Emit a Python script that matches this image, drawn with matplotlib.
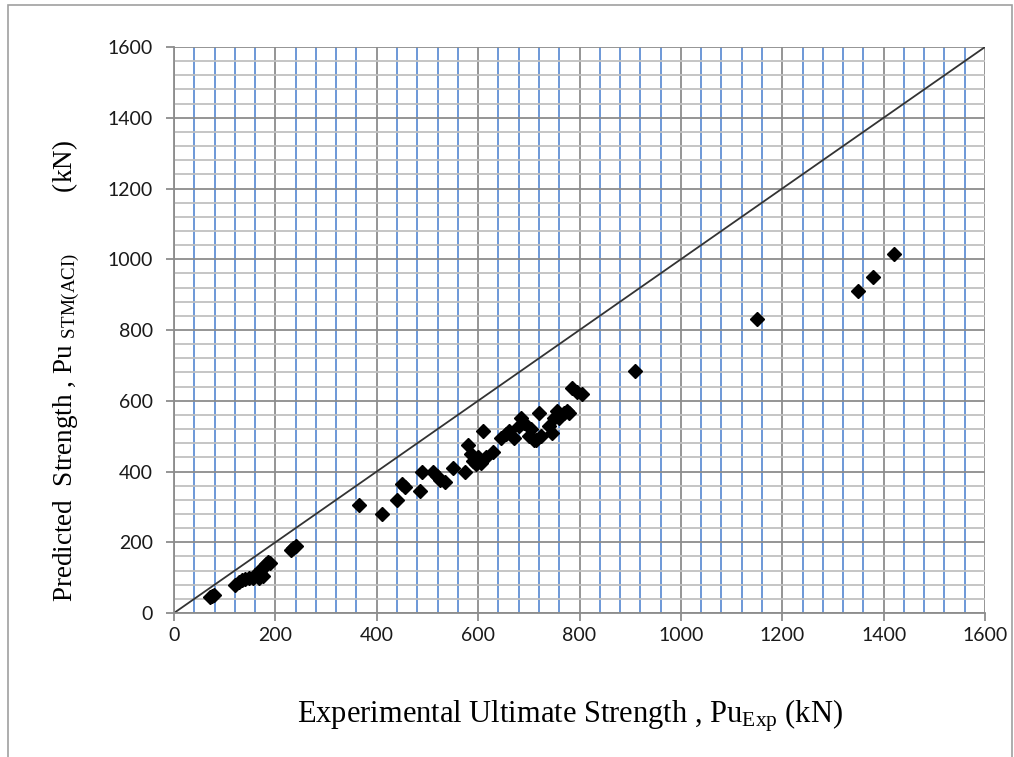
import matplotlib
matplotlib.use("Agg")
import matplotlib.pyplot as plt
from matplotlib.ticker import MultipleLocator
from matplotlib.patches import Rectangle

# Experimental vs predicted ultimate strength (kN)
pu_exp = [72, 78, 75,
          120, 128, 135, 140, 148, 155, 160, 165, 170, 172, 178, 182, 186, 175, 190, 168,
          230, 240, 235,
          365, 410, 440, 450, 455, 485, 490, 510, 518, 525, 535, 550, 575,
          580, 585, 590, 595, 600, 605, 610, 615, 630, 645, 655, 660, 670, 680, 685,
          690, 700, 705, 710, 715, 720, 725, 740, 745, 750, 755, 760, 770, 775, 780,
          785, 795, 805, 910, 1150, 1350, 1380, 1420]
pu_stm = [45, 52, 48,
          80, 88, 92, 95, 98, 100, 108, 112, 118, 125, 130, 138, 145, 105, 140, 100,
          178, 190, 185,
          305, 280, 320, 365, 355, 345, 400, 400, 388, 375, 370, 410, 400,
          475, 450, 430, 420, 440, 425, 515, 440, 455, 495, 505, 515, 495, 530, 550,
          537, 500, 520, 490, 490, 565, 500, 530, 510, 550, 570, 550, 565, 570, 565,
          635, 625, 618, 685, 830, 910, 950, 1015]

ticks = [0, 200, 400, 600, 800, 1000, 1200, 1400, 1600]
equality_line = [0, 1600]

plt.rcParams['mathtext.fontset'] = 'custom'
plt.rcParams['mathtext.rm'] = 'Liberation Serif'
plt.rcParams['mathtext.it'] = 'Liberation Serif:italic'

fig = plt.figure(figsize=(10.14, 7.57), dpi=100)
ax = fig.add_axes([0.1716, 0.1902, 0.7998, 0.7477])

ax.set_xlim(0, 1600)
ax.set_ylim(0, 1600)
ax.xaxis.set_major_locator(MultipleLocator(200))
ax.yaxis.set_major_locator(MultipleLocator(200))
ax.xaxis.set_minor_locator(MultipleLocator(40))
ax.yaxis.set_minor_locator(MultipleLocator(40))

ax.grid(which='major', color='#8c8c8c', linewidth=1.3, zorder=1)
ax.xaxis.grid(which='minor', color='#6190d4', linewidth=1.3, zorder=0)
ax.yaxis.grid(which='minor', color='#c0c0c0', linewidth=1.3, zorder=0)
ax.set_axisbelow(True)

for side in ['top', 'right']:
    ax.spines[side].set_visible(False)
for side in ['left', 'bottom']:
    ax.spines[side].set_color('#8c8c8c')
    ax.spines[side].set_linewidth(1.3)

ax.tick_params(which='major', direction='out', length=6, width=1.3,
               color='#8c8c8c')
ax.tick_params(axis='y', which='major', pad=9)
ax.tick_params(axis='x', which='major', pad=4)
ax.tick_params(which='minor', length=0)
ax.set_xticks(ticks)
ax.set_yticks(ticks)
ax.set_xticklabels([str(t) for t in ticks], family='Lato', fontsize=14,
                   color='#1a1a1a')
ax.set_yticklabels([str(t) for t in ticks], family='Lato', fontsize=14,
                   color='#1a1a1a')

ax.plot(equality_line, equality_line, color='#333333', linewidth=1.3, zorder=2)
ax.plot(pu_exp, pu_stm, linestyle='none', marker='D', markersize=7,
        color='black', zorder=3)

ax.set_xlabel(r'Experimental Ultimate Strength , Pu$_{\mathrm{Exp}}$ (kN)',
              family='Liberation Serif', fontsize=22)
ax.xaxis.set_label_coords(0.488, -0.182)
ax.xaxis.label.set_va('center')
ax.set_ylabel(r'Predicted  Strength , Pu $_{\mathrm{STM(ACI)}}$         (kN)',
              family='Liberation Serif', fontsize=19.5)
ax.yaxis.set_label_coords(-0.133, 0.428)
ax.yaxis.label.set_va('center')

fig.patches.append(Rectangle((8 / 1014, -0.01), 1004 / 1014, 1.01 - 5 / 757,
                             transform=fig.transFigure, fill=False,
                             edgecolor='#a0a0a0', linewidth=1.2))

fig.savefig('out.png', dpi=100)
